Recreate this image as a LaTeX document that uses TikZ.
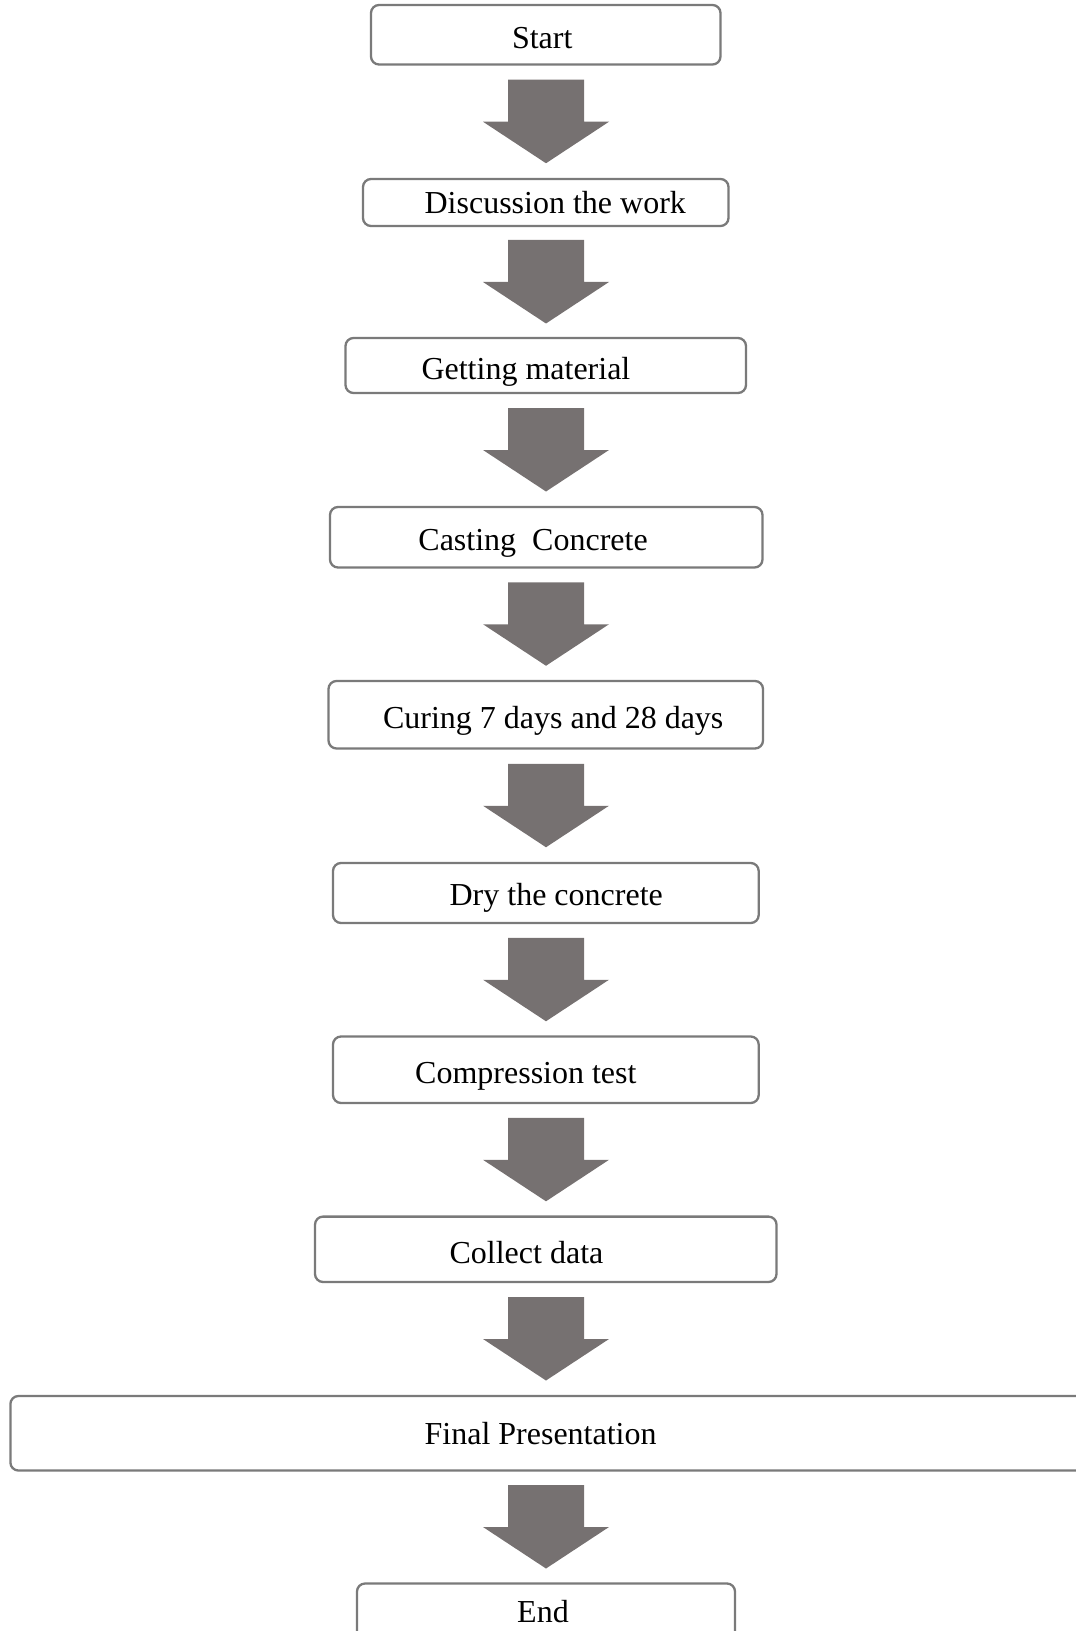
\documentclass[tikz,border=0pt]{standalone}
\usepackage{fontspec}
\setmainfont{Liberation Serif}
\usetikzlibrary{calc}
\definecolor{arrowgray}{HTML}{767171}
\definecolor{boxgray}{HTML}{7A7A7A}
\newcommand{\flowarrow}[2]{%
  \coordinate (mm) at ($(#1.south)!0.5!(#2.north)$);
  \coordinate (m) at (axis |- mm);
  \fill[blockarrow] ([shift={(-38,-42)}]m) -- ([shift={(38,-42)}]m) -- ([shift={(38,0)}]m)
    -- ([shift={(63,0)}]m) -- ([shift={(0,41.5)}]m) -- ([shift={(-63,0)}]m)
    -- ([shift={(-38,0)}]m) -- cycle;}
\begin{document}
\begin{tikzpicture}[x=0.5pt,y=-0.5pt,
  box/.style={draw=boxgray, line width=1.15pt, rounded corners=4pt, fill=white, inner sep=0pt, outer sep=0pt},
  lbl/.style={font=\fontsize{16}{19}\selectfont, inner sep=0pt, outer sep=0pt, anchor=base west},
  blockarrow/.style={fill=arrowgray}]
\useasboundingbox (0,0) rectangle (1075,1631);
\coordinate (axis) at (546,0);
% boxes
\node[box, minimum width=174.75pt, minimum height=29.75pt] (b1) at (545.75,34.75) {};
\node[box, minimum width=182.75pt, minimum height=23.5pt] (b2) at (545.75,202.5) {};
\node[box, minimum width=200.25pt, minimum height=27.5pt] (b3) at (545.75,365.5) {};
\node[box, minimum width=216.25pt, minimum height=30.25pt] (b4) at (546.25,537.25) {};
\node[box, minimum width=217.25pt, minimum height=33.75pt] (b5) at (545.75,714.75) {};
\node[box, minimum width=212.85pt, minimum height=30pt] (b6) at (545.85,893) {};
\node[box, minimum width=212.85pt, minimum height=33.25pt] (b7) at (545.85,1069.75) {};
\node[box, minimum width=230.75pt, minimum height=32.7pt] (b8) at (545.75,1249.3) {};
\node[box, minimum width=537.3pt, minimum height=37.25pt] (b9) at (547.7,1433.25) {};
\node[box, minimum width=189pt, minimum height=40pt] (b10) at (546,1623.5) {};
% labels
\node[lbl] (t1) at (512,49) {Start};
\node[lbl] (t2) at (424.6,213.5) {Discussion the work};
\node[lbl] (t3) at (421.5,379.5) {Getting material};
\node[lbl] (t4) at (418.4,550) {Casting\ \ Concrete};
\node[lbl] (t5) at (383,728.3) {Curing 7 days and 28 days};
\node[lbl] (t6) at (449.6,905.5) {Dry the concrete};
\node[lbl] (t7) at (415.2,1083.3) {Compression test};
\node[lbl] (t8) at (449.6,1263.3) {Collect data};
\node[lbl] (t9) at (424.6,1444.5) {Final Presentation};
\node[lbl] (t10) at (517.2,1622) {End};
% arrows
\flowarrow{b1}{b2}
\flowarrow{b2}{b3}
\flowarrow{b3}{b4}
\flowarrow{b4}{b5}
\flowarrow{b5}{b6}
\flowarrow{b6}{b7}
\flowarrow{b7}{b8}
\flowarrow{b8}{b9}
\flowarrow{b9}{b10}
\end{tikzpicture}
\end{document}
